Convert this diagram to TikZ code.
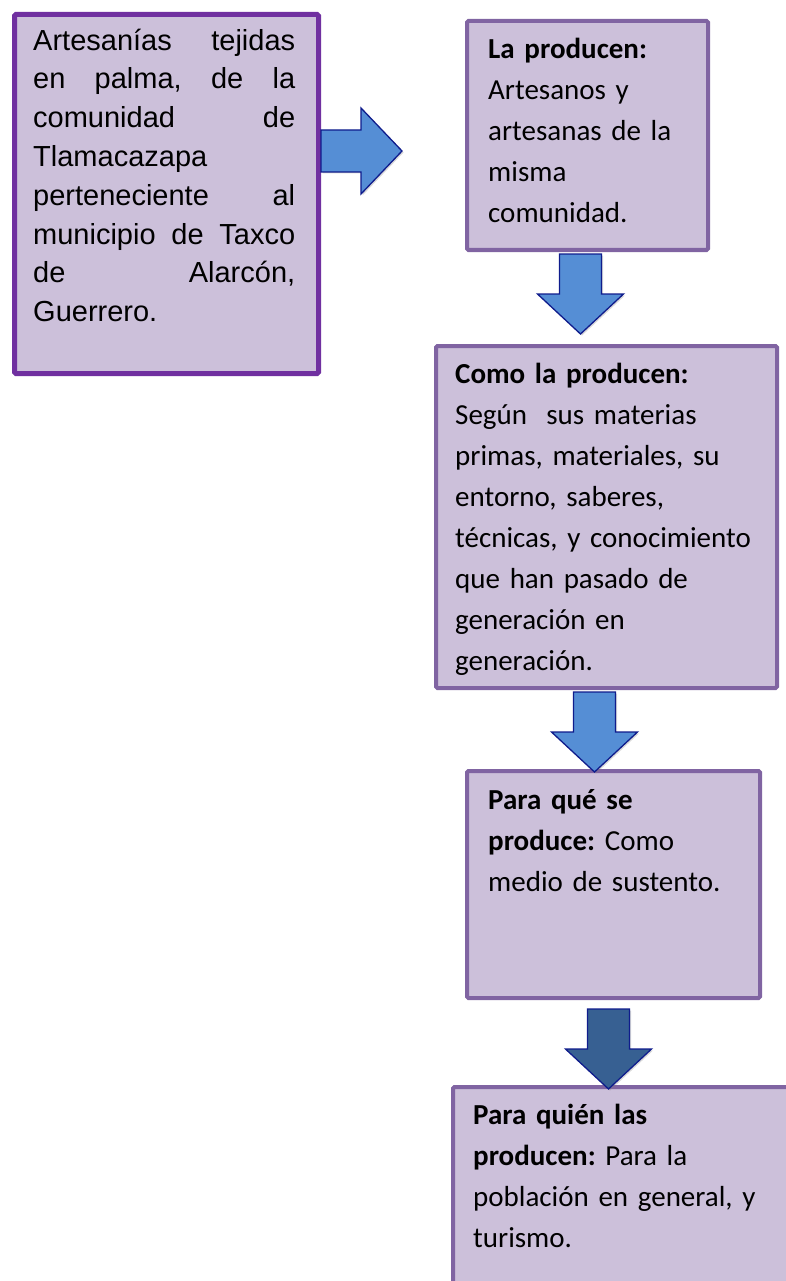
\documentclass[tikz,border=0pt]{standalone}
\usepackage{fontspec}
\setmainfont{Carlito}
\newfontfamily\arialfont{Liberation Sans}
\usetikzlibrary{calc,shadows}
\definecolor{boxfill}{HTML}{CCC0DA}
\definecolor{boxline}{HTML}{8064A2}
\definecolor{firstline}{HTML}{7030A0}
\definecolor{arrowfill}{HTML}{558ED5}
\definecolor{arrowdark}{HTML}{376092}
\definecolor{arrowline}{HTML}{0F1C8C}
\frenchspacing
\begin{document}
\begin{tikzpicture}[x=1pt,y=-1pt,
        box/.style={rectangle,draw=boxline,line width=4pt,fill=boxfill,rounded corners=1.5pt,anchor=north west,inner sep=0pt},
        txt/.style={anchor=north west,inner sep=0pt,text width=#1,align=left,font=\fontsize{29}{41}\selectfont},
        arrowblock/.style={draw=arrowline,line width=1.3pt,fill=arrowfill,line join=miter,
            drop shadow={shadow xshift=1.5pt,shadow yshift=-1.5pt,opacity=.3}},
        downblock/.pic={\draw[arrowblock,#1] (-21,0) -- (21,0) -- (21,40) -- (43,40) -- (0,80) -- (-43,40) -- (-21,40) -- cycle;},
        rightblock/.pic={\draw[arrowblock] (0,-21) -- (0,21) -- (40,21) -- (40,43) -- (81,0) -- (40,-43) -- (40,-21) -- cycle;}
    ]
    \useasboundingbox (0,0) rectangle (786,1281);
    \clip (0,0) rectangle (786,1281);
    % boxes
    \node[box,draw=firstline,line width=5pt,minimum width=304pt,minimum height=359pt] (b1) at (12,12) {};
    \node[box,minimum width=241pt,minimum height=229pt] (b2) at (465,19) {};
    \node[box,minimum width=341pt,minimum height=342pt] (b3) at (434,344) {};
    \node[box,minimum width=293pt,minimum height=227pt] (b4) at (465,769) {};
    \node[box,minimum width=360pt,minimum height=230pt] (b5) at (451,1085) {};
    % texts
    \node[txt=262pt,align=justify,font=\arialfont\fontsize{29}{38.8}\selectfont] (t1) at ($(b1.north west)+(21,10.8)$)
        {\strut Artesanías tejidas\linebreak en palma, de la\linebreak comunidad de\linebreak Tlamacazapa\linebreak
         perteneciente al\linebreak municipio de Taxco\linebreak de Alarcón,\linebreak Guerrero.};
    \node[txt=215pt] (t2) at ($(b2.north west)+(23,10.3)$)
        {\strut\textbf{La producen:}\\Artesanos y\\artesanas de la\\misma\\comunidad.};
    \node[txt=315pt] (t3) at ($(b3.north west)+(21,10.3)$)
        {\strut\textbf{Como la producen:}\\Según~ sus materias\\primas, materiales, su\\entorno, saberes,\\técnicas, y conocimiento\\que han pasado de\\generación en\\generación.};
    \node[txt=265pt] (t4) at ($(b4.north west)+(23,11.3)$)
        {\strut\textbf{Para qué se}\\\textbf{produce:} Como\\medio de sustento.};
    \node[txt=320pt] (t5) at ($(b5.north west)+(22,10.3)$)
        {\strut\textbf{Para quién las}\\\textbf{producen:} Para la\\población en general, y\\turismo.};
    % block arrows
    \pic at ($(b1.east)+(0,-43)$) {rightblock};
    \pic at ($(b2.south)+(-7,2)$) {downblock};
    \pic at ($(b3.south)+(-12,2)$) {downblock};
    \pic at ($(b4.south)+(-5,9)$) {downblock={fill=arrowdark}};
\end{tikzpicture}
\end{document}
